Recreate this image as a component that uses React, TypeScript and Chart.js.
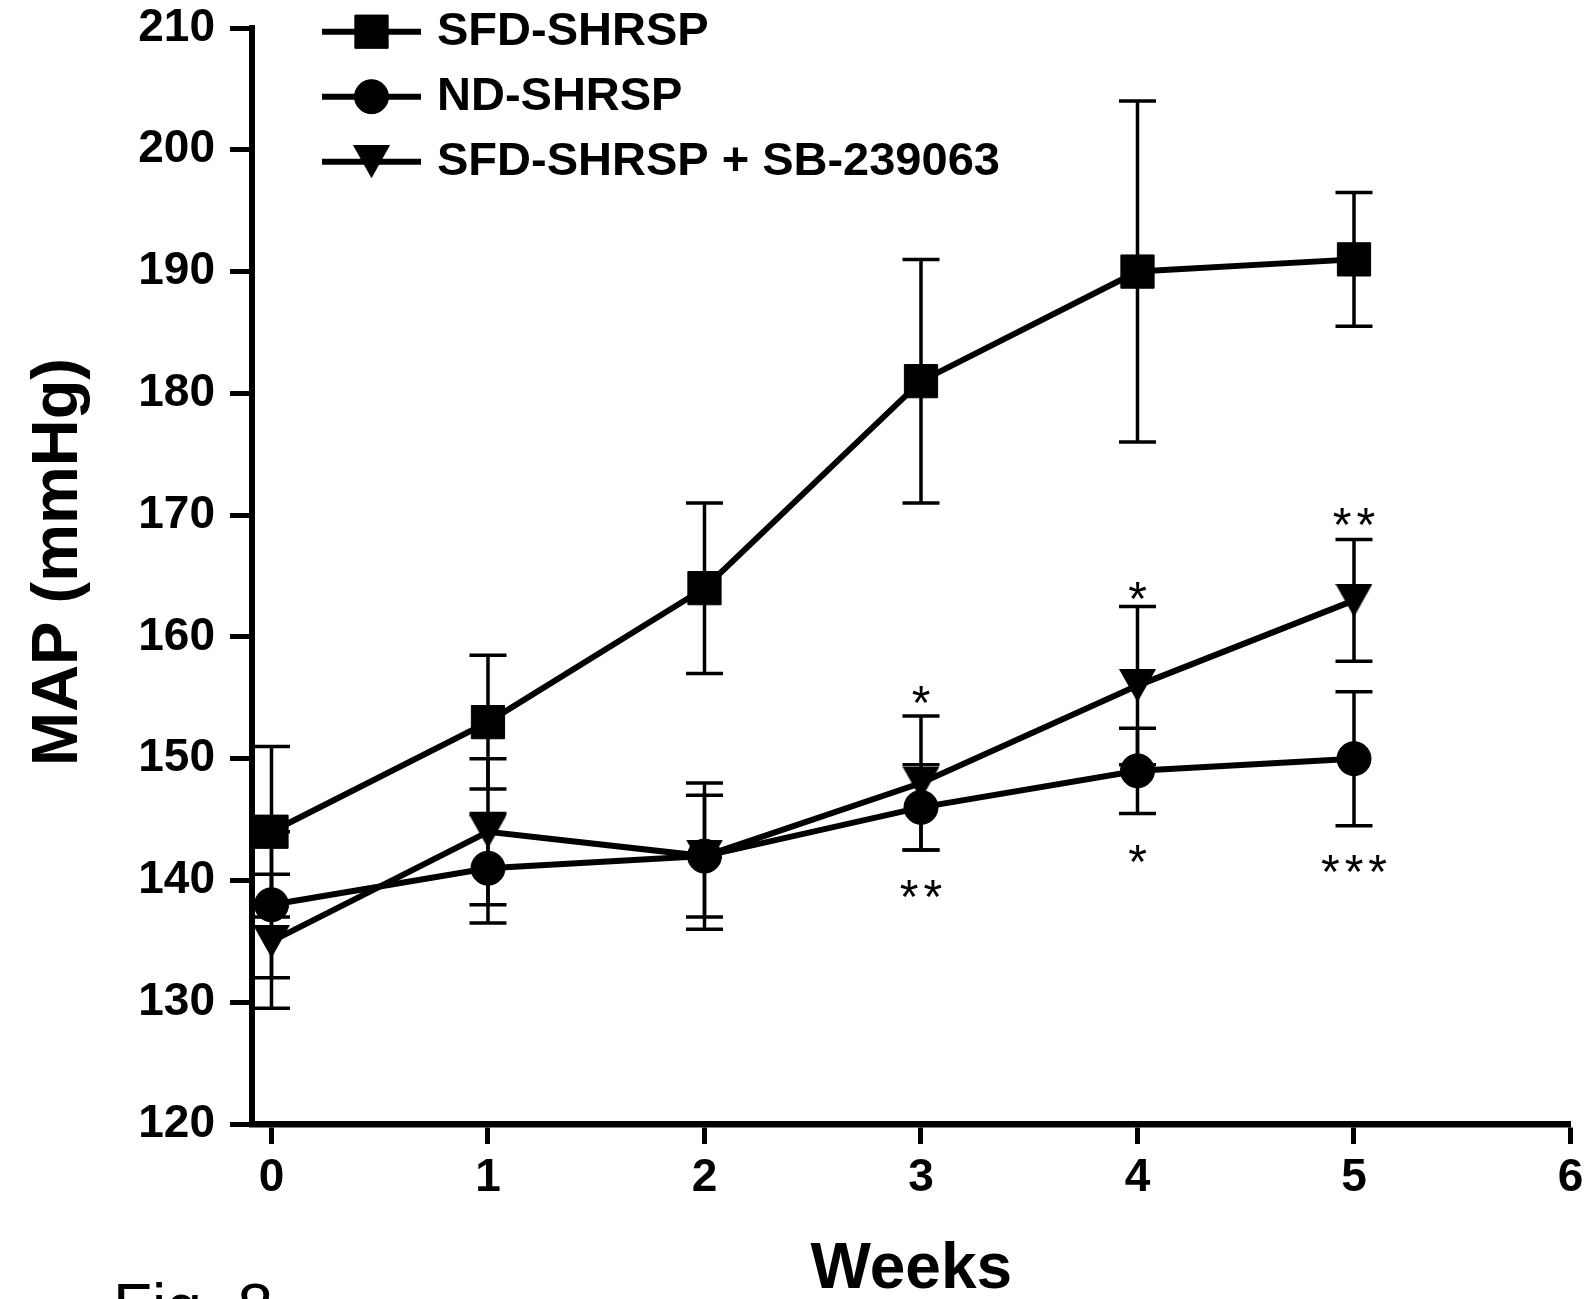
import React, { useEffect, useRef } from 'react';
import { Chart, registerables } from 'chart.js';
import { drawPoint } from 'chart.js/helpers';

Chart.register(...registerables);

// ---- data ----
const weeks = [0, 1, 2, 3, 4, 5];
const sfdMean = [144, 153, 164, 181, 190, 191];
const sfdErr = [7, 5.5, 7, 10, 14, 5.5];
const ndMean = [138, 141, 142, 146, 149, 150];
const ndErr = [6, 4.5, 5, 3.5, 3.5, 5.5];
const sbMean = [135, 144, 142, 148, 156, 163];
const sbErr = [5.5, 6, 6, 5.5, 6.5, 5];

const seriesLabels = ['SFD-SHRSP', 'ND-SHRSP', 'SFD-SHRSP + SB-239063'];

const xTicks = [0, 1, 2, 3, 4, 5, 6];
const yTicks = [120, 130, 140, 150, 160, 170, 180, 190, 200, 210];

// significance annotations (week, value in mmHg, text)
const starWeeks = [3, 3, 4, 4, 5, 5];
const starValues = [155.6, 139.6, 164.1, 142.5, 170.2, 141.7];
const starTexts = ['*', '**', '*', '*', '**', '***'];

const xTitle = 'Weeks';
const yTitle = 'MAP (mmHg)';
const figLabel = 'Fig. 8';

const FONT = '"Liberation Sans", Arial, Helvetica, sans-serif';

function makeDownTriangle(w: number, h: number) {
  const c = document.createElement('canvas');
  c.width = w;
  c.height = h;
  const g = c.getContext('2d')!;
  g.fillStyle = '#000';
  g.beginPath();
  g.moveTo(0, 0);
  g.lineTo(w, 0);
  g.lineTo(w / 2, h);
  g.closePath();
  g.fill();
  return c;
}

export default function App() {
  const ref = useRef<HTMLCanvasElement>(null);

  useEffect(() => {
    const canvas = ref.current!;
    const tri = makeDownTriangle(37, 33);

    const errorBars = {
      id: 'errorBars',
      beforeDatasetsDraw(chart: any) {
        const { ctx, scales } = chart;
        const xs = scales.x;
        const ys = scales.y;
        const cap = 18.5;
        ctx.save();
        ctx.strokeStyle = '#000';
        ctx.lineWidth = 3.5;
        chart.data.datasets.forEach((ds: any) => {
          ds.means.forEach((m: number, i: number) => {
            const e = ds.errors[i];
            const px = xs.getPixelForValue(weeks[i]);
            const top = ys.getPixelForValue(m + e);
            const bot = ys.getPixelForValue(m - e);
            ctx.beginPath();
            ctx.moveTo(px, top);
            ctx.lineTo(px, bot);
            ctx.moveTo(px - cap, top);
            ctx.lineTo(px + cap, top);
            ctx.moveTo(px - cap, bot);
            ctx.lineTo(px + cap, bot);
            ctx.stroke();
          });
        });
        ctx.restore();
      },
    };

    const stars = {
      id: 'stars',
      afterDatasetsDraw(chart: any) {
        const { ctx, scales } = chart;
        ctx.save();
        ctx.fillStyle = '#000';
        const size = 48;
        ctx.font = `${size}px ${FONT}`;
        ctx.textBaseline = 'alphabetic';
        ctx.textAlign = 'left';
        const gap = 5;
        starTexts.forEach((t, k) => {
          const cx = scales.x.getPixelForValue(starWeeks[k]);
          const cy = scales.y.getPixelForValue(starValues[k]);
          const adv = ctx.measureText('*').width;
          const total = t.length * adv + (t.length - 1) * gap;
          let x0 = cx - total / 2;
          for (let j = 0; j < t.length; j++) {
            ctx.fillText('*', x0, cy + size * 0.585);
            x0 += adv + gap;
          }
        });
        ctx.restore();
      },
    };

    const overlay = {
      id: 'overlay',
      afterDraw(chart: any) {
        const { ctx, chartArea } = chart;
        ctx.save();
        // legend
        const x0 = 322;
        const x1 = 421;
        const top = 31.7;
        const step = 65;
        chart.data.datasets.forEach((ds: any, i: number) => {
          const cy = top + i * step;
          ctx.strokeStyle = '#000';
          ctx.fillStyle = '#000';
          ctx.lineWidth = 6;
          ctx.beginPath();
          ctx.moveTo(x0, cy);
          ctx.lineTo(x1, cy);
          ctx.stroke();
          ctx.lineWidth = 1;
          drawPoint(
            ctx,
            { pointStyle: ds.pointStyle, rotation: 0, radius: ds.pointRadius, borderWidth: 1 } as any,
            (x0 + x1) / 2,
            cy
          );
          ctx.font = `bold 47px ${FONT}`;
          ctx.textBaseline = 'middle';
          ctx.textAlign = 'left';
          ctx.fillText(ds.label, 437, cy);
        });
        // y-axis title
        ctx.save();
        ctx.font = `bold 65px ${FONT}`;
        ctx.textAlign = 'center';
        ctx.textBaseline = 'alphabetic';
        ctx.translate(77, (chartArea.top + chartArea.bottom) / 2 - 14);
        ctx.rotate(-Math.PI / 2);
        ctx.fillText(yTitle, 0, 0);
        ctx.restore();
        // figure label (partially cut by the bottom edge)
        ctx.font = `64px ${FONT}`;
        ctx.textBaseline = 'alphabetic';
        ctx.textAlign = 'left';
        ctx.fillStyle = '#000';
        ctx.fillText(figLabel, 113, 1329);
        ctx.restore();
      },
    };

    const bg = {
      id: 'bg',
      beforeDraw(chart: any) {
        const { ctx, width, height } = chart;
        ctx.save();
        ctx.fillStyle = '#fff';
        ctx.fillRect(0, 0, width, height);
        ctx.restore();
      },
    };

    const mk = (mean: number[], err: number[], label: string, style: any, radius: number) => ({
      label,
      data: weeks.map((w, i) => ({ x: w, y: mean[i] })),
      means: mean,
      errors: err,
      borderColor: '#000',
      backgroundColor: '#000',
      borderWidth: 6,
      pointStyle: style,
      pointRadius: radius,
      pointHoverRadius: radius,
      pointBorderWidth: 1,
      pointBorderColor: '#000',
      pointBackgroundColor: '#000',
      tension: 0,
      fill: false,
    });

    const chart = new Chart(canvas, {
      type: 'line',
      data: {
        datasets: [
          mk(sfdMean, sfdErr, seriesLabels[0], 'rect', 23.5),
          mk(ndMean, ndErr, seriesLabels[1], 'circle', 17),
          mk(sbMean, sbErr, seriesLabels[2], tri, 18),
        ] as any,
      },
      options: {
        responsive: false,
        animation: false,
        devicePixelRatio: 1,
        events: [],
        layout: { padding: { top: 28, right: 17, bottom: 0, left: 0 } },
        plugins: {
          legend: { display: false },
          tooltip: { enabled: false },
          title: { display: false },
        },
        scales: {
          x: {
            type: 'linear',
            min: -0.09,
            max: 6,
            afterBuildTicks: (s: any) => {
              s.ticks = xTicks.map((v) => ({ value: v }));
            },
            afterFit: (s: any) => {
              s.height = 175;
            },
            ticks: {
              autoSkip: false,
              maxRotation: 0,
              padding: 4,
              color: '#000',
              font: { family: FONT, size: 46, weight: 'bold', lineHeight: 1.33 },
              callback: (v: any) => String(v),
            },
            grid: {
              drawOnChartArea: false,
              drawTicks: true,
              tickLength: 20,
              tickWidth: 5,
              color: '#000',
            },
            border: { display: true, color: '#000', width: 6.5 },
            title: {
              display: true,
              text: xTitle,
              color: '#000',
              font: { family: FONT, size: 64, weight: 'bold', lineHeight: 0.9 },
              padding: 0,
            },
          },
          y: {
            type: 'linear',
            min: 120,
            max: 210,
            afterBuildTicks: (s: any) => {
              s.ticks = yTicks.map((v) => ({ value: v }));
            },
            afterFit: (s: any) => {
              s.width = 252;
            },
            ticks: {
              padding: 15,
              color: '#000',
              font: { family: FONT, size: 46, weight: 'bold', lineHeight: 0.5 },
              callback: (v: any) => String(v),
            },
            grid: {
              drawOnChartArea: false,
              drawTicks: true,
              tickLength: 22,
              tickWidth: 5,
              color: '#000',
            },
            border: { display: true, color: '#000', width: 6 },
            title: { display: false },
          },
        },
      } as any,
      plugins: [bg, errorBars, stars, overlay],
    });

    return () => chart.destroy();
  }, []);

  return (
    <div style={{ position: 'fixed', left: 0, top: 0, width: 1595, height: 1299, background: '#fff' }}>
      <canvas ref={ref} width={1595} height={1299} style={{ display: 'block', width: 1595, height: 1299 }} />
    </div>
  );
}
